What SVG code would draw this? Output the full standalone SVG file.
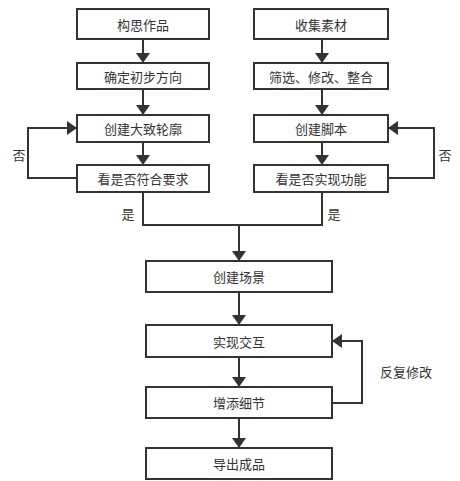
<svg xmlns="http://www.w3.org/2000/svg" width="460" height="481" viewBox="0 0 460 481">
<defs>
<style>
.box{fill:#fff;stroke:#333;stroke-width:2}
.t{font-family:"Noto Sans CJK SC","Noto Sans",sans-serif;font-size:13px;fill:#333;text-anchor:middle;dominant-baseline:central}
.l{font-family:"Noto Sans CJK SC","Noto Sans",sans-serif;font-size:13px;fill:#333;dominant-baseline:central}
.c{fill:none;stroke:#333;stroke-width:2}
</style>
<marker id="ah" viewBox="0 0 10 14" refX="10" refY="7" markerWidth="10" markerHeight="14" markerUnits="userSpaceOnUse" orient="auto-start-reverse">
<path d="M0,0 L10,7 L0,14 Z" fill="#333"/>
</marker>
</defs>
<rect width="460" height="481" fill="#fff"/>
<g id="connectors">
<path class="c" d="M143,39 V63" marker-end="url(#ah)" transform="translate(0,0)"/>
<path class="c" d="M143,89 V115" marker-end="url(#ah)"/>
<path class="c" d="M143,142 V165" marker-end="url(#ah)"/>
<path class="c" d="M77,178 H28 V128 H77" marker-end="url(#ah)"/>
<path class="c" d="M143,192 V225 H322 V192"/>
<path class="c" d="M239,225 V261" marker-end="url(#ah)"/>
<path class="c" d="M322,39 V63" marker-end="url(#ah)"/>
<path class="c" d="M322,89 V115" marker-end="url(#ah)"/>
<path class="c" d="M322,142 V165" marker-end="url(#ah)"/>
<path class="c" d="M388,178 H434 V128 H388" marker-end="url(#ah)"/>
<path class="c" d="M239,292 V325" marker-end="url(#ah)"/>
<path class="c" d="M239,357 V387" marker-end="url(#ah)"/>
<path class="c" d="M239,418 V448" marker-end="url(#ah)"/>
<path class="c" d="M332,403 H362 V341 H332" marker-end="url(#ah)"/>
<text class="t" x="19" y="154">否</text>
<text class="t" x="445" y="154">否</text>
<text class="t" x="128" y="213">是</text>
<text class="t" x="334" y="213">是</text>
<text class="l" x="380" y="371">反复修改</text>
</g>
<g id="n1"><rect class="box" x="77" y="9" width="132" height="30"/><text class="t" x="143" y="24">构思作品</text></g>
<g id="n2"><rect class="box" x="77" y="63" width="132" height="26"/><text class="t" x="143" y="76">确定初步方向</text></g>
<g id="n3"><rect class="box" x="77" y="115" width="132" height="27"/><text class="t" x="143" y="128.5">创建大致轮廓</text></g>
<g id="n4"><rect class="box" x="77" y="165" width="132" height="27"/><text class="t" x="143" y="178.5">看是否符合要求</text></g>
<g id="n5"><rect class="box" x="254" y="9" width="134" height="30"/><text class="t" x="321" y="24">收集素材</text></g>
<g id="n6"><rect class="box" x="254" y="63" width="134" height="26"/><text class="t" x="321" y="76">筛选、修改、整合</text></g>
<g id="n7"><rect class="box" x="254" y="115" width="134" height="27"/><text class="t" x="321" y="128.5">创建脚本</text></g>
<g id="n8"><rect class="box" x="254" y="165" width="134" height="27"/><text class="t" x="321" y="178.5">看是否实现功能</text></g>
<g id="n9"><rect class="box" x="146" y="261" width="186" height="31"/><text class="t" x="239" y="276.5">创建场景</text></g>
<g id="n10"><rect class="box" x="146" y="325" width="186" height="32"/><text class="t" x="239" y="341">实现交互</text></g>
<g id="n11"><rect class="box" x="146" y="387" width="186" height="31"/><text class="t" x="239" y="402.5">增添细节</text></g>
<g id="n12"><rect class="box" x="146" y="448" width="186" height="31"/><text class="t" x="239" y="463.5">导出成品</text></g>
</svg>
